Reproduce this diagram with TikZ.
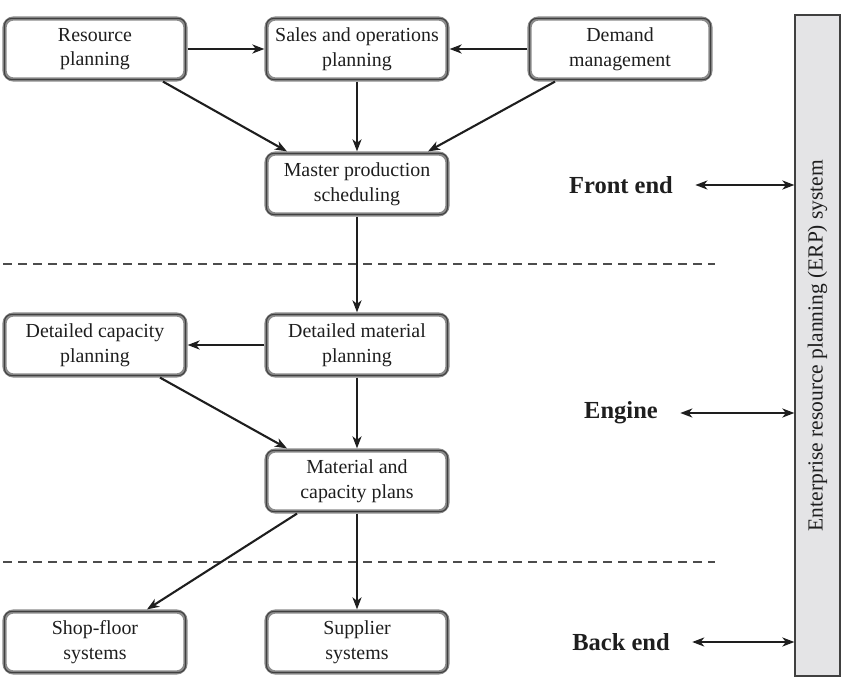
\documentclass[tikz,border=0pt]{standalone}
\usepackage{fontspec}
\setmainfont{Liberation Serif}
\usetikzlibrary{arrows.meta}
\definecolor{ink}{HTML}{1E1E1E}
\definecolor{ring}{HTML}{8C8C8C}
\definecolor{barfill}{HTML}{E4E4E6}
\begin{document}
\begin{tikzpicture}[x=1pt,y=-1pt,
  >={Stealth[length=12pt,width=9pt,inset=3.5pt]},
  box/.style={draw=ring, line width=4.2pt, rounded corners=9pt, fill=white,
    minimum width=181pt, minimum height=61pt, inner sep=0pt, align=center,
    font=\fontsize{19.9}{24.5}\selectfont, text=ink},
  flow/.style={line width=2.1pt, draw=ink, ->},
  both/.style={line width=2.1pt, draw=ink, <->},
  level/.style={font=\fontsize{24.5}{28}\selectfont\bfseries, text=ink},
  divider/.style={line width=1.3pt, draw=black!70, dash pattern=on 9pt off 6pt}]

\useasboundingbox (0,0) rectangle (855,685);

% process boxes
\node[box] (rp)   at (95,49)   {Resource\\planning};
\node[box] (sop)  at (357,49)  {Sales and operations\\planning};
\node[box] (dm)   at (620,49)  {Demand\\management};
\node[box] (mps)  at (357,184) {Master production\\scheduling};
\node[box] (dcp)  at (95,345)  {Detailed capacity\\planning};
\node[box] (dmp)  at (357,345) {Detailed material\\planning};
\node[box] (mcp)  at (357,481) {Material and\\capacity plans};
\node[box] (shop) at (95,642)  {Shop-floor\\systems};
\node[box] (sup)  at (357,642) {Supplier\\systems};

% thin dark inner outline of each box
\foreach \n in {rp,sop,dm,mps,dcp,dmp,mcp,shop,sup}
  \draw[ink!85, line width=1.1pt, rounded corners=7pt]
    ([shift={(2.1pt,2.1pt)}]\n.south west) rectangle ([shift={(-2.1pt,-2.1pt)}]\n.north east);

% section dividers
\draw[divider] (3,264) -- (715,264);
\draw[divider] (3,562) -- (715,562);

% ERP system bar
\node[draw=black!75, line width=1.2pt, fill=barfill, rotate=90,
      minimum width=661pt, minimum height=45pt, inner sep=0pt,
      font=\fontsize{21.5}{26}\selectfont, text=ink]
  (erp) at (817.5,345.5) {Enterprise resource planning (ERP) system};

% level labels
\node[level] (fe)  at (621,185) {Front end};
\node[level] (eng) at (621,413) {Engine};
\node[level] (be)  at (621,642) {Back end};

% flows between boxes
\draw[flow] (rp.east) -- (sop.west);
\draw[flow] (dm.west) -- (sop.east);
\draw[flow] ([xshift=68pt]rp.south) -- ([xshift=-70pt]mps.north);
\draw[flow] (sop.south) -- (mps.north);
\draw[flow] ([xshift=-65pt]dm.south) -- ([xshift=71pt]mps.north);
\draw[flow] (mps.south) -- (dmp.north);
\draw[flow] (dmp.west) -- (dcp.east);
\draw[flow] ([xshift=65pt]dcp.south) -- ([xshift=-70pt]mcp.north);
\draw[flow] (dmp.south) -- (mcp.north);
\draw[flow] ([xshift=-60pt]mcp.south) -- ([xshift=52pt]shop.north);
\draw[flow] (mcp.south) -- (sup.north);

% links between levels and the ERP system
\draw[both] ([xshift=19pt]fe.east) -- (fe.east -| erp.north);
\draw[both] ([xshift=19pt]eng.east) -- (eng.east -| erp.north);
\draw[both] ([xshift=19pt]be.east) -- (be.east -| erp.north);
\end{tikzpicture}
\end{document}
